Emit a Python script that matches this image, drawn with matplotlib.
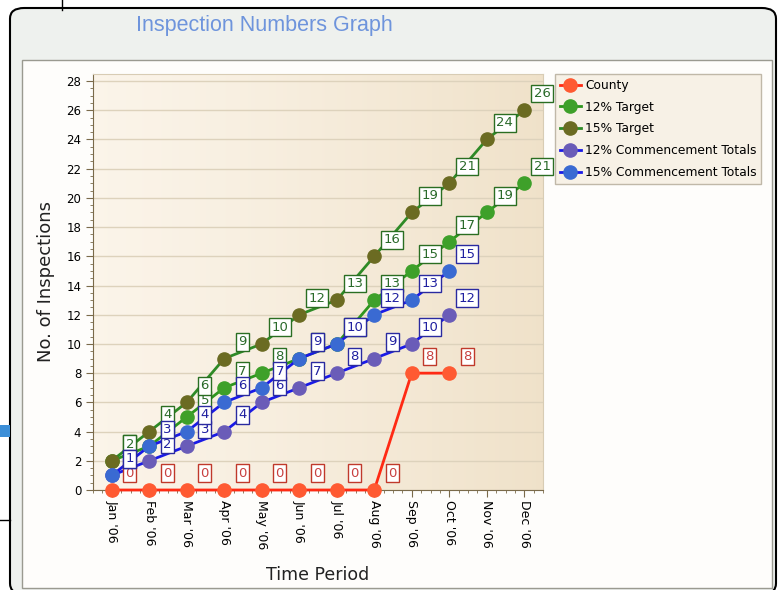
import numpy as np
import matplotlib
matplotlib.use('Agg')
import matplotlib.pyplot as plt
from matplotlib.patches import FancyBboxPatch, Rectangle
from matplotlib.lines import Line2D

months = ["Jan '06", "Feb '06", "Mar '06", "Apr '06", "May '06", "Jun '06",
          "Jul '06", "Aug '06", "Sep '06", "Oct '06", "Nov '06", "Dec '06"]

county = [0, 0, 0, 0, 0, 0, 0, 0, 8, 8]
target_12 = [2, 3, 5, 7, 8, 9, 10, 13, 15, 17, 19, 21]
target_15 = [2, 4, 6, 9, 10, 12, 13, 16, 19, 21, 24, 26]
comm_12 = [1, 2, 3, 4, 6, 7, 8, 9, 10, 12]
comm_15 = [1, 3, 4, 6, 7, 9, 10, 12, 13, 15]

series = [
    ("County", county, '#ff2a14', '#ff5a32', '#c0392b', '#c84040'),
    ("12% Target", target_12, '#2e961e', '#3ea02a', '#2a6e22', '#2a6a2a'),
    ("15% Target", target_15, '#2e8a26', '#6b6b22', '#2a6e22', '#2a6a2a'),
    ("12% Commencement Totals", comm_12, '#1a1ae6', '#6a5cb8', '#2a2aa0', '#2020a0'),
    ("15% Commencement Totals", comm_15, '#1a1ae6', '#3a6ad2', '#2a2aa0', '#2020a0'),
]

fig = plt.figure(figsize=(7.83, 5.9), dpi=100)
W, H = 783, 590

def px(x0, y0, w, h):
    # pixel box (top-left origin) -> figure coords
    return (x0 / W, 1 - (y0 + h) / H, w / W, h / H)

# outer frame with header
x, y, w, h = px(10, 8, 766, 586)
fig.patches.append(FancyBboxPatch((x, y), w, h, boxstyle="round,pad=0,rounding_size=0.018",
                                  transform=fig.transFigure, facecolor='#eef1ee',
                                  edgecolor='black', linewidth=1.5, zorder=-3))
x, y, w, h = px(22, 60, 750, 528)
fig.patches.append(Rectangle((x, y), w, h, transform=fig.transFigure,
                             facecolor='#fefdfb', edgecolor='#9a9a90', linewidth=1, zorder=-2))
# screenshot remnants at the left edge
fig.patches.append(Rectangle(px(0, 425, 10, 12)[:2], 10 / W, 12 / H, transform=fig.transFigure,
                             facecolor='#3d8fd8', edgecolor='none', zorder=-1))
fig.lines.append(Line2D([62 / W, 62 / W], [1, 1 - 10 / H], transform=fig.transFigure,
                        color='black', linewidth=1))
fig.lines.append(Line2D([0, 10 / W], [1 - 520 / H, 1 - 520 / H], transform=fig.transFigure,
                        color='black', linewidth=1))

fig.text(264 / W, 1 - 26 / H, "Inspection Numbers Graph", ha='center', va='center',
         fontsize=15.5, color='#6e94dc', family='Liberation Sans')

ax = fig.add_axes(px(93, 74, 450, 416))
ax.set_facecolor('none')

# beige gradient background
grad = np.linspace(0, 1, 256).reshape(1, -1)
c1 = np.array([0.985, 0.958, 0.915])
c2 = np.array([0.94, 0.885, 0.79])
img = c1 + (c2 - c1) * grad[..., None] ** 1.2
ax.imshow(img, extent=(0, 1, 0, 1), transform=ax.transAxes, aspect='auto', zorder=0)

xs = np.arange(len(months))
ax.set_xlim(-0.5, len(months) - 0.5)
ax.set_ylim(0, 28.48)

for name, vals, lc, mc, ec, tc in series:
    n = len(vals)
    ax.plot(xs[:n], vals, color=lc, linewidth=2, marker='o', markersize=9.5,
            markerfacecolor=mc, markeredgecolor=mc, label=name, zorder=3, clip_on=False)
    for xi, v in zip(xs[:n], vals):
        ax.annotate(str(v), (xi, v), xytext=(13, 12), textcoords='offset points',
                    ha='center', va='center', fontsize=9.5, color=tc, zorder=4,
                    bbox=dict(boxstyle='square,pad=0.18', facecolor='white',
                              edgecolor=ec, linewidth=1))

ax.set_yticks(np.arange(0, 29, 2))
ax.set_yticks(np.arange(0, 28.4, 0.5), minor=True)
ax.set_xticks(xs)
ax.set_xticks(np.arange(-0.5, len(months) - 0.4, 0.25), minor=True)
ax.set_xticklabels(months, rotation=270, fontsize=9)
ax.tick_params(axis='y', labelsize=8.5, length=5, color='#7a6a4a')
ax.tick_params(axis='x', length=5, color='#7a6a4a', pad=2)
ax.tick_params(which='minor', length=2.5, color='#7a6a4a')
ax.grid(axis='y', color='#ddd2bc', linewidth=1, zorder=1)
ax.set_axisbelow(True)
for s in ['top', 'right']:
    ax.spines[s].set_color('#d8ccb4')
for s in ['left', 'bottom']:
    ax.spines[s].set_color('#7a6a4a')

ax.set_ylabel("No. of Inspections", fontsize=13, color='#222222', labelpad=8)
ax.set_xlabel("Time Period", fontsize=12.5, color='#222222', labelpad=12)

leg = fig.legend(loc='upper left', bbox_to_anchor=(555 / W, 1 - 74 / H), fontsize=8.8,
                 frameon=True, fancybox=False, borderpad=0.4, labelspacing=0.72,
                 handlelength=1.7, handletextpad=0.35, borderaxespad=0)
leg.get_frame().set_facecolor('#f7f1e6')
leg.get_frame().set_edgecolor('#c0b8a8')
leg.get_frame().set_alpha(1)

fig.savefig('out.png', dpi=100)
